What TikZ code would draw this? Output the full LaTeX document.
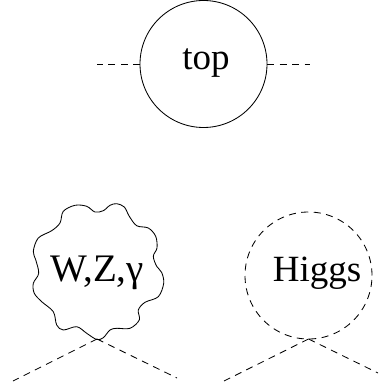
\documentclass[tikz,border=0pt]{standalone}
\usepackage{fontspec}
\setmainfont{Liberation Serif}
\tikzset{
	scalar/.style={line width=0.85pt, dash pattern=on 7pt off 5.5pt},
	loop/.style={circle, line width=0.85pt, draw, inner sep=0pt, outer sep=0pt, minimum size=127pt},
	looplabel/.style={anchor=base, inner sep=0pt, font=\fontsize{37}{37}\selectfont},
}
\begin{document}
\begin{tikzpicture}[x=1pt, y=-1pt]
	\useasboundingbox (0, 0) rectangle (383, 385);
	\node[loop] (top) at (203.5, 64) {};
	\node[loop, scalar] (higgs) at (308.5, 275.5) {};

	\node[looplabel] (toplabel) at (206, 70) {top};
	\node[looplabel] (higgslabel) at (317, 281) {Higgs};
	\node[looplabel, font=\fontsize{39}{39}\selectfont] (wzlabel) at (97, 281) {W,Z,γ};

	% wavy loop
	\draw[line width=0.85pt] plot[smooth cycle, tension=0.55] coordinates {
		(95,212) (103.3,210.7) (110,205.3) (116.7,203.7) (124.3,207) (129.3,216.3) (136.7,225.7)
		(148.3,228) (155.7,236.3) (157,248) (153.3,256.3) (156.7,266.3) (161.7,272.5) (163.7,283.3)
		(158.3,296.7) (145,302.3) (138.3,310) (139.3,320) (130,328.3) (116.7,328.3) (110,330)
		(103.3,337.7) (96.7,339.5) (86.7,333.3) (76.7,326.7) (63.3,330) (56.7,325) (53.3,311.7)
		(41.7,301.7) (34.3,293.3) (33.3,283.3) (38.7,273.3) (35.7,259.7) (33.3,251.3) (38.3,238)
		(51.7,230.7) (60,223) (63.3,211.3) (75,205.3) (86.7,206.3)
	};

	\coordinate (topleft) at (97, 64);
	\coordinate (topright) at (310, 64);
	\coordinate (wzvertex) at (97, 339);
	\coordinate (wzleft) at (13, 381);
	\coordinate (wzright) at (177, 378);
	\coordinate (higgsleft) at (224, 381);
	\coordinate (higgsright) at (378, 373);

	\draw[scalar] (top.west) -- (topleft);
	\draw[scalar] (top.east) -- (topright);
	\draw[scalar] (wzvertex) -- (wzleft);
	\draw[scalar] (wzvertex) -- (wzright);
	\draw[scalar] (higgs.south) -- (higgsleft);
	\draw[scalar] (higgs.south) -- (higgsright);
\end{tikzpicture}
\end{document}
